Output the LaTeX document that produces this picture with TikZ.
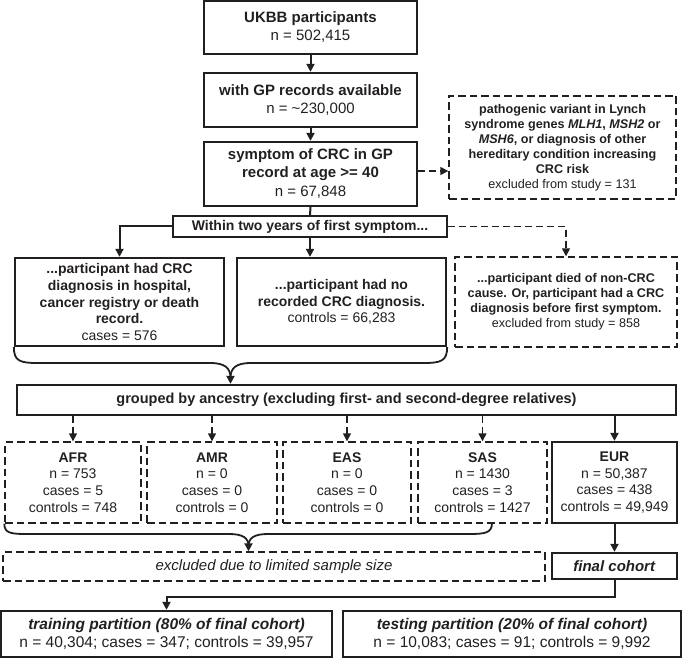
\documentclass[tikz,border=0pt]{standalone}
\usepackage{fontspec}
\setmainfont{Liberation Sans}
\usetikzlibrary{arrows.meta,calc}
\definecolor{ink}{HTML}{231F20}
\begin{document}
\begin{tikzpicture}[x=1pt,y=-1pt,
  every node/.style={text=ink, inner sep=0pt, align=center},
  solidbox/.style={draw=ink, line width=2.3pt},
  dashbox/.style={draw=ink, line width=1.4pt, dash pattern=on 7.5pt off 4pt},
  sz/.style n args={2}{minimum width=#1, minimum height=#2},
  fA/.style={font=\fontsize{15}{18}\selectfont},
  fB/.style={font=\fontsize{14}{16.7}\selectfont},
  fC/.style={font=\fontsize{12.6}{15}\selectfont},
  arr/.style={draw=ink, line width=2pt, -{Triangle[length=8pt,width=8pt]}},
  darr/.style={arr, line width=1.4pt, dash pattern=on 7pt off 4pt},
  plain/.style={draw=ink, line width=2pt},
  brc/.style={draw=ink, line width=1.8pt}
]
\useasboundingbox (0,0) rectangle (685,660);

% top chain
\node[solidbox, fA, sz={213pt}{53pt}] (ukbb) at (310.5,27.5)
  {\textbf{UKBB participants}\\ n = 502,415};
\node[solidbox, fA, sz={213pt}{54pt}] (gp) at (310.5,100)
  {\textbf{with GP records available}\\ n = \textasciitilde230,000};
\node[solidbox, fA, sz={213pt}{64pt}] (sym) at (310.5,174)
  {\textbf{symptom of CRC in GP}\\ \textbf{record at age >= 40}\\[1pt] n = 67,848};
\node[dashbox, fC, sz={227pt}{103pt}] (lynch) at (562.5,147.5)
  {\textbf{pathogenic variant in Lynch}\\
   \textbf{syndrome genes \textit{MLH1}, \textit{MSH2} or}\\
   \textbf{\textit{MSH6}, or diagnosis of other}\\
   \textbf{hereditary condition increasing}\\
   \textbf{CRC risk}\\
   excluded from study = 131};
\node[solidbox, fB, sz={274pt}{21pt}] (within) at (310,226.5)
  {\textbf{Within two years of first symptom...}};

% second level
\node[solidbox, fB, sz={209pt}{88pt}] (cases) at (119.5,302)
  {\textbf{...participant had CRC}\\
   \textbf{diagnosis in hospital,}\\
   \textbf{cancer registry or death}\\
   \textbf{record.}\\
   cases = 576};
\node[solidbox, fB, sz={209pt}{88pt}] (controls) at (341.5,302)
  {\textbf{...participant had no}\\
   \textbf{recorded CRC diagnosis.}\\
   controls = 66,283};
\node[dashbox, fC, sz={222pt}{90pt}] (died) at (566,302)
  {\textbf{...participant died of non-CRC}\\
   \textbf{cause. Or, participant had a CRC}\\
   \textbf{diagnosis before first symptom.}\\
   excluded from study = 858};

% grouped
\node[solidbox, font=\fontsize{14.5}{17}\selectfont, sz={659pt}{30pt}] (grouped) at (346.5,400)
  {\textbf{grouped by ancestry (excluding first- and second-degree relatives)}};

% ancestry
\node[dashbox, fB, sz={136pt}{81pt}] (afr) at (73,482.5)
  {\textbf{AFR}\\ n = 753\\ cases = 5\\ controls = 748};
\node[dashbox, fB, sz={130pt}{81pt}] (amr) at (212,482.5)
  {\textbf{AMR}\\ n = 0\\ cases = 0\\ controls = 0};
\node[dashbox, fB, sz={128pt}{81pt}] (eas) at (347,482.5)
  {\textbf{EAS}\\ n = 0\\ cases = 0\\ controls = 0};
\node[dashbox, fB, sz={129pt}{81pt}] (sas) at (482.5,482.5)
  {\textbf{SAS}\\ n = 1430\\ cases = 3\\ controls = 1427};
\node[solidbox, fB, sz={125pt}{81pt}] (eur) at (614.5,482.5)
  {\textbf{EUR}\\ n = 50,387\\ cases = 438\\ controls = 49,949};

% excluded / final
\node[dashbox, fA, sz={542pt}{29pt}] (excl) at (274,566.5)
  {\textit{excluded due to limited sample size}};
\node[solidbox, fA, sz={125pt}{26pt}] (final) at (614.5,566)
  {\textbf{\textit{final cohort}}};

% partitions
\node[solidbox, font=\fontsize{15.5}{18}\selectfont, sz={331pt}{46pt}] (train) at (166.5,634)
  {\textbf{\textit{training partition (80\% of final cohort)}}\\
   n = 40,304; cases = 347; controls = 39,957};
\node[solidbox, font=\fontsize{15.5}{18}\selectfont, sz={338pt}{46pt}] (test) at (512,634)
  {\textbf{\textit{testing partition (20\% of final cohort)}}\\
   n = 10,083; cases = 91; controls = 9,992};

% connectors
\draw[arr] (ukbb.south) -- (gp.north);
\draw[arr] (gp.south) -- (sym.north);
\draw[darr] ([yshift=3pt]sym.east) -- ([yshift=3pt]sym.east -| lynch.west);
\draw[plain] (sym.south) -- (within.north);
\draw[arr] (within.west) -| (cases.north);
\draw[arr] (within.south) -- (within.south |- controls.north);
\draw[darr] (within.east) -| (died.north);

% brace 1
\coordinate (t1) at (230.5,378);
\draw[brc] (cases.south west) .. controls +(0,14) and +(-18,0) .. (38,363)
  -- (210,363) .. controls +(15,0) and +(0,-10) .. (t1);
\draw[brc] (controls.south east) .. controls +(0,14) and +(18,0) .. (423,363)
  -- (251,363) .. controls +(-15,0) and +(0,-10) .. (t1);
\draw[arr] (t1) -- (t1 |- grouped.north);

% grouped to ancestry
\foreach \n in {afr,amr,eas,sas}
  \draw[darr] (grouped.south -| \n.north) -- (\n.north);
\draw[arr] (grouped.south -| eur.north) -- (eur.north);

% brace 2
\coordinate (b2r) at (492,523);
\coordinate (t2) at (248.5,546);
\draw[brc] (afr.south west) .. controls +(0,10) and +(-16,0) .. (28,534)
  -- (229,534) .. controls +(14,0) and +(0,-8) .. (t2);
\draw[brc] (b2r) .. controls +(0,10) and +(16,0) .. (469,534)
  -- (268,534) .. controls +(-14,0) and +(0,-8) .. (t2);
\draw[arr] (t2) -- (t2 |- excl.north);

\draw[arr] (eur.south) -- (final.north);
\draw[arr] (final.south) -- ++(0,17) -| (train.north);
\end{tikzpicture}
\end{document}
